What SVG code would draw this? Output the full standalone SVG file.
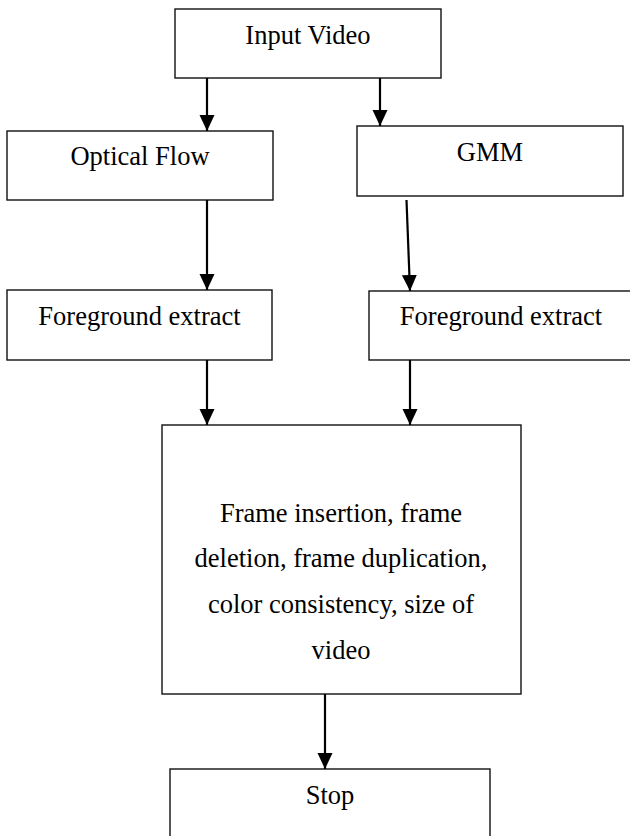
<svg xmlns="http://www.w3.org/2000/svg" width="630" height="836" viewBox="0 0 630 836">
<style>
.box{fill:#fff;stroke:#111;stroke-width:1.4}
.t{font-family:"Liberation Serif","Times New Roman",serif;font-size:26.5px;fill:#000;text-anchor:middle}
.c{stroke:#000;stroke-width:2.2;fill:none;marker-end:url(#ah)}
</style>
<defs>
<marker id="ah" markerUnits="userSpaceOnUse" markerWidth="16" markerHeight="17" refX="16" refY="7.5" orient="auto">
<path d="M0,0 L16,7.5 L0,15 Z" fill="#000"/>
</marker>
</defs>
<rect width="630" height="836" fill="#fff"/>
<g id="n-input"><rect class="box" x="175" y="9" width="266" height="69"/><text class="t" x="308" y="44">Input Video</text></g>
<g id="n-optical"><rect class="box" x="7" y="131" width="266" height="69"/><text class="t" x="140" y="165">Optical Flow</text></g>
<g id="n-gmm"><rect class="box" x="357" y="126" width="266" height="70"/><text class="t" x="490" y="161">GMM</text></g>
<g id="n-fg1"><rect class="box" x="7" y="290" width="265" height="70"/><text class="t" x="139.5" y="325">Foreground extract</text></g>
<g id="n-fg2"><rect class="box" x="369" y="291" width="268" height="69"/><text class="t" x="501" y="325">Foreground extract</text></g>
<g id="n-frame"><rect class="box" x="162" y="425" width="359" height="269"/>
<text class="t" x="341" y="522">Frame insertion, frame</text>
<text class="t" x="341" y="567">deletion, frame duplication,</text>
<text class="t" x="341" y="613">color consistency, size of</text>
<text class="t" x="341" y="659">video</text></g>
<g id="n-stop"><rect class="box" x="170" y="769" width="320" height="80"/><text class="t" x="330" y="804">Stop</text></g>
<g id="connectors">
<line class="c" x1="207" y1="78" x2="207" y2="131"/>
<line class="c" x1="380" y1="78" x2="380" y2="126"/>
<line class="c" x1="207" y1="200" x2="207" y2="290"/>
<line class="c" x1="406.5" y1="200" x2="410" y2="291"/>
<line class="c" x1="207" y1="360" x2="207" y2="425"/>
<line class="c" x1="410" y1="360" x2="410" y2="425"/>
<line class="c" x1="325" y1="694" x2="325" y2="769"/>
</g>
</svg>
